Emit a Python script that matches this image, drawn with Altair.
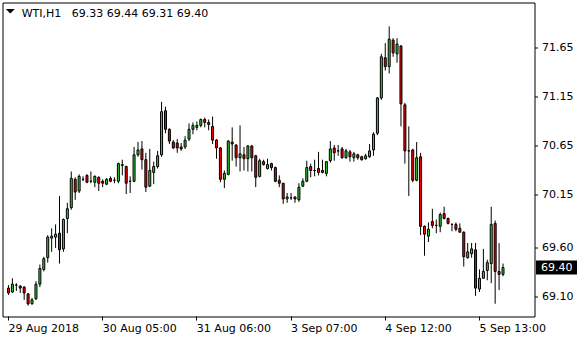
import altair as alt
import pandas as pd

symbol = "WTI,H1"

opens = [69.19, 69.15, 69.22, 69.21, 69.20, 69.13, 69.03, 69.08, 69.23, 69.38,
         69.50, 69.70, 69.71, 69.75, 69.59, 69.90, 70.01, 70.30, 70.18, 70.30,
         70.34, 70.28, 70.27, 70.32, 70.28, 70.25, 70.31, 70.29, 70.28, 70.45,
         70.43, 70.28, 70.28, 70.55, 70.61, 70.50, 70.23, 70.37, 70.43, 70.55,
         71.00, 70.81, 70.68, 70.67, 70.63, 70.63, 70.71, 70.81, 70.83, 70.85,
         70.91, 70.88, 70.84, 70.70, 70.62, 70.30, 70.35, 70.68, 70.65, 70.52,
         70.55, 70.51, 70.64, 70.54, 70.33, 70.48, 70.41, 70.46, 70.42, 70.29,
         70.26, 70.10, 70.11, 70.12, 70.09, 70.23, 70.28, 70.43, 70.39, 70.41,
         70.39, 70.36, 70.49, 70.62, 70.59, 70.61, 70.52, 70.58, 70.52, 70.55,
         70.53, 70.51, 70.53, 70.60, 70.77, 71.13, 71.54, 71.45, 71.72, 71.58,
         71.66, 71.06, 70.59, 70.60, 70.29, 70.53, 69.82, 69.72, 69.87, 69.83,
         69.82, 69.95, 69.90, 69.84, 69.84, 69.80, 69.76, 69.50, 69.54, 69.58,
         69.18, 69.29, 69.37, 69.44, 69.85, 69.36, 69.33]
highs = [69.22, 69.29, 69.24, 69.22, 69.21, 69.14, 69.09, 69.26, 69.43, 69.51,
         69.73, 69.80, 69.84, 70.13, 69.90, 70.06, 70.38, 70.32, 70.35, 70.33,
         70.35, 70.38, 70.34, 70.33, 70.30, 70.31, 70.33, 70.32, 70.47, 70.50,
         70.44, 70.33, 70.63, 70.68, 70.69, 70.57, 70.61, 70.48, 70.59, 71.09,
         71.04, 70.82, 70.70, 70.71, 70.67, 70.74, 70.87, 70.88, 70.89, 70.92,
         70.93, 70.91, 70.94, 70.71, 70.63, 70.39, 70.70, 70.83, 70.66, 70.85,
         70.63, 70.65, 70.65, 70.55, 70.51, 70.50, 70.51, 70.47, 70.43, 70.34,
         70.26, 70.16, 70.16, 70.12, 70.26, 70.31, 70.49, 70.46, 70.50, 70.58,
         70.50, 70.48, 70.69, 70.65, 70.65, 70.63, 70.61, 70.60, 70.58, 70.56,
         70.54, 70.56, 70.66, 70.78, 71.14, 71.58, 71.69, 71.86, 71.74, 71.74,
         71.67, 71.08, 70.84, 70.61, 70.68, 70.57, 69.83, 69.86, 70.00, 69.89,
         69.96, 70.02, 69.91, 69.85, 69.86, 69.85, 69.77, 69.65, 69.65, 69.65,
         69.38, 69.59, 69.48, 70.02, 69.88, 69.65, 69.44]
lows = [69.12, 69.14, 69.16, 69.14, 69.07, 69.01, 69.02, 69.07, 69.20, 69.36,
        69.45, 69.56, 69.60, 69.44, 69.56, 69.75, 69.99, 70.09, 70.16, 70.28,
        70.26, 70.26, 70.22, 70.18, 70.22, 70.24, 70.27, 70.26, 70.26, 70.34,
        70.15, 70.16, 70.27, 70.53, 70.40, 70.17, 70.22, 70.25, 70.41, 70.53,
        70.77, 70.66, 70.61, 70.57, 70.59, 70.61, 70.69, 70.76, 70.80, 70.83,
        70.83, 70.80, 70.66, 70.51, 70.27, 70.21, 70.34, 70.49, 70.43, 70.38,
        70.39, 70.38, 70.38, 70.22, 70.32, 70.44, 70.40, 70.39, 70.27, 70.22,
        70.05, 70.06, 70.09, 70.06, 70.07, 70.22, 70.27, 70.32, 70.33, 70.34,
        70.36, 70.33, 70.47, 70.49, 70.54, 70.51, 70.51, 70.48, 70.48, 70.50,
        70.49, 70.50, 70.52, 70.54, 70.75, 71.11, 71.41, 71.38, 71.55, 71.49,
        70.84, 70.46, 70.13, 70.27, 70.28, 69.73, 69.52, 69.66, 69.80, 69.75,
        69.76, 69.89, 69.84, 69.77, 69.77, 69.76, 69.41, 69.49, 69.50, 69.11,
        69.15, 69.29, 69.27, 69.24, 69.03, 69.17, 69.31]
closes = [69.14, 69.23, 69.22, 69.19, 69.14, 69.03, 69.07, 69.23, 69.39, 69.49,
          69.71, 69.72, 69.74, 69.58, 69.89, 70.00, 70.31, 70.17, 70.33, 70.30,
          70.27, 70.28, 70.33, 70.26, 70.26, 70.30, 70.28, 70.29, 70.46, 70.44,
          70.26, 70.28, 70.55, 70.60, 70.50, 70.22, 70.39, 70.43, 70.54, 70.99,
          70.81, 70.69, 70.62, 70.62, 70.61, 70.70, 70.81, 70.85, 70.85, 70.91,
          70.88, 70.86, 70.70, 70.62, 70.30, 70.36, 70.69, 70.66, 70.52, 70.56,
          70.51, 70.64, 70.52, 70.32, 70.49, 70.45, 70.45, 70.42, 70.28, 70.26,
          70.10, 70.12, 70.11, 70.10, 70.22, 70.28, 70.42, 70.39, 70.39, 70.37,
          70.37, 70.48, 70.61, 70.57, 70.59, 70.52, 70.59, 70.53, 70.56, 70.52,
          70.50, 70.54, 70.59, 70.76, 71.13, 71.55, 71.45, 71.73, 71.59, 71.68,
          71.07, 70.59, 70.59, 70.29, 70.52, 69.82, 69.74, 69.79, 69.83, 69.83,
          69.94, 69.90, 69.85, 69.84, 69.79, 69.76, 69.51, 69.56, 69.59, 69.19,
          69.29, 69.36, 69.45, 69.84, 69.36, 69.33, 69.40]

tick_bars = [0, 24, 48, 72, 96, 120]
tick_labels = ["29 Aug 2018", "30 Aug 05:00", "31 Aug 06:00",
               "3 Sep 07:00", "4 Sep 12:00", "5 Sep 13:00"]
price_ticks = [69.10, 69.60, 70.15, 70.65, 71.15, 71.65]

df = pd.DataFrame({
    "i": list(range(len(opens))),
    "open": opens, "high": highs, "low": lows, "close": closes,
})
df["dir"] = ["up" if c >= o else "down" for o, c in zip(opens, closes)]

label_expr = ""
for b, t in zip(tick_bars, tick_labels):
    label_expr += f"datum.value == {b} ? '{t}' : "
label_expr += "''"

FONT = "DejaVu Sans"
xscale = alt.Scale(domain=[-0.25, 132.75], nice=False, zero=False)
yscale = alt.Scale(domain=[68.90, 72.1041], nice=False, zero=False)

x_axis = alt.Axis(values=tick_bars, labelExpr=label_expr, title=None, domain=False,
                  grid=False, ticks=True, tickSize=4, tickColor="black", tickWidth=1,
                  labelAlign="left", labelBaseline="top", labelPadding=2,
                  labelFont=FONT, labelFontSize=11, labelColor="black",
                  labelOverlap=False, labelFlush=False, translate=0)
y_axis = alt.Axis(orient="right", values=price_ticks, format=".2f", title=None,
                  domain=False, grid=False, tickSize=3, tickColor="black", tickWidth=1,
                  labelAlign="left", labelBaseline="middle", labelPadding=4,
                  labelFont=FONT, labelFontSize=11, labelColor="black",
                  labelOverlap=False, labelFlush=False)

base = alt.Chart(df)

wicks = base.mark_rule(color="black", strokeWidth=1).encode(
    x=alt.X("i:Q", scale=xscale, axis=x_axis),
    y=alt.Y("low:Q", scale=yscale, axis=y_axis),
    y2="high:Q",
)

bodies = base.mark_bar(width=2, stroke="black", strokeWidth=1, opacity=1).encode(
    x=alt.X("i:Q", scale=xscale, axis=x_axis),
    y=alt.Y("open:Q", scale=yscale, axis=y_axis),
    y2="close:Q",
    color=alt.Color("dir:N", scale=alt.Scale(domain=["up", "down"],
                                             range=["#32CD32", "#FF0000"]), legend=None),
)

last = pd.DataFrame({"p": [closes[-1]], "t": [f"{closes[-1]:.2f}"]})
price_box = alt.Chart(last).mark_tick(orient="horizontal", thickness=14, size=41,
                                      color="black", opacity=1).encode(
    y=alt.Y("p:Q", scale=yscale, axis=y_axis),
    x=alt.value(554),
)
price_text = alt.Chart(last).mark_text(align="left", baseline="middle", color="white",
                                       font=FONT, fontSize=11).encode(
    y=alt.Y("p:Q", scale=yscale, axis=y_axis),
    x=alt.value(538.5),
    text="t:N",
)

NB = "\u00a0"
header = (f"{symbol}{NB * 3}{opens[-1]:.2f} {highs[-1]:.2f} "
          f"{lows[-1]:.2f} {closes[-1]:.2f}")
head_df = pd.DataFrame({"t": [header]})
head_text = alt.Chart(head_df).mark_text(align="left", baseline="alphabetic", color="black",
                                         font=FONT, fontSize=11).encode(
    x=alt.value(19.2), y=alt.value(14.2), text="t:N")
head_tri = alt.Chart(head_df).mark_point(shape="M-1,-0.5L1,-0.5L0,0.5Z", filled=True,
                                         size=81, color="black", opacity=1,
                                         strokeWidth=0).encode(
    x=alt.value(7.8), y=alt.value(8.7))

chart = alt.layer(wicks, bodies, price_box, price_text, head_text, head_tri).properties(
    width=532, height=314,
    padding={"left": 2.5, "top": 2.5, "right": 45.5, "bottom": 23.5},
    autosize=alt.AutoSizeParams(type="none"),
    background="white",
).configure_view(stroke="black", strokeWidth=1).configure_axis(grid=False)

chart.save("out.html", embed_options={"renderer": "svg", "actions": False})
